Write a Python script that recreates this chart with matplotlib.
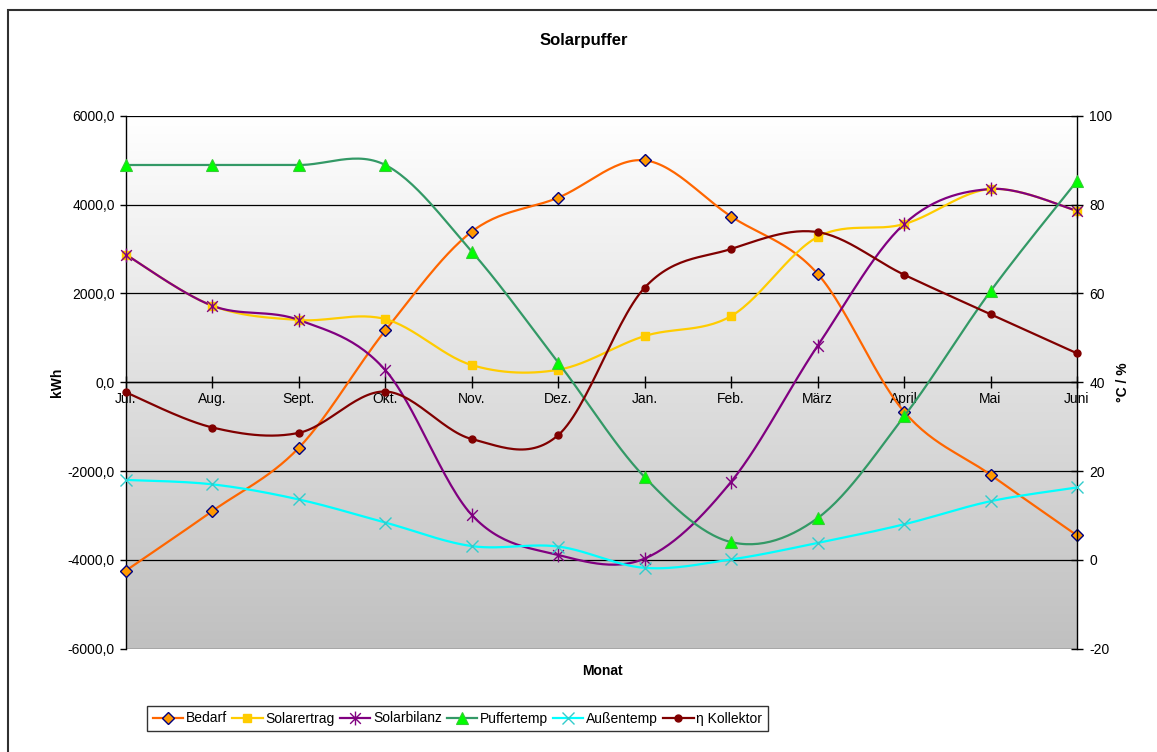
"""Solarpuffer: Excel-style combo chart, kWh on the left, degC / % on the right."""

import matplotlib

matplotlib.use("Agg")
import matplotlib.pyplot as plt  # noqa: E402
import numpy as np  # noqa: E402
from matplotlib.patches import Rectangle  # noqa: E402
from matplotlib.path import Path  # noqa: E402
from matplotlib.ticker import FixedLocator, FuncFormatter  # noqa: E402

plt.rcParams["font.family"] = ["Liberation Sans", "DejaVu Sans"]
plt.rcParams["font.size"] = 10

W, H = 1157, 752

MONTHS = ["Jul.", "Aug.", "Sept.", "Okt.", "Nov.", "Dez.",
          "Jan.", "Feb.", "März", "April", "Mai", "Juni"]

# kWh (left axis)
BEDARF = [-4240, -2900, -1475, 1165, 3390, 4155, 4995, 3730, 2440, -665, -2085, -3450]
SOLARERTRAG = [2870, 1720, 1400, 1420, 385, 280, 1040, 1490, 3270, 3560, 4350, 3860]
SOLARBILANZ = [2870, 1720, 1400, 270, -2990, -3890, -3970, -2240, 820, 3560, 4350, 3860]

# degC / % (right axis)
PUFFERTEMP = [88.9, 88.9, 88.9, 88.9, 69.4, 44.4, 18.6, 4.0, 9.4, 32.3, 60.5, 85.3]
AUSSENTEMP = [18.0, 17.0, 13.6, 8.4, 3.1, 3.0, -1.8, 0.1, 3.8, 8.0, 13.2, 16.3]
KOLLEKTOR = [37.7, 29.8, 28.6, 37.9, 27.2, 28.1, 61.3, 70.0, 73.8, 64.2, 55.3, 46.5]

LEFT_TICKS = [-6000, -4000, -2000, 0, 2000, 4000, 6000]
RIGHT_TICKS = [-20, 0, 20, 40, 60, 80, 100]

# Excel "star" marker: an x with a vertical stroke through it
STAR = Path(
    [(-1, -1), (1, 1), (-1, 1), (1, -1), (0, -1.3), (0, 1.3)],
    [Path.MOVETO, Path.LINETO, Path.MOVETO, Path.LINETO, Path.MOVETO, Path.LINETO],
)

LW = 1.6


def smooth(y, n=30):
    """Excel-like smoothed line: cubic Bezier with Catmull-Rom control points."""
    y = np.asarray(y, dtype=float)
    x = np.arange(len(y), dtype=float)
    pts = np.column_stack([x, y])
    ext = np.vstack([pts[0], pts, pts[-1]])
    t = np.linspace(0, 1, n)[:, None]
    out = []
    for i in range(len(pts) - 1):
        p0, p3 = ext[i + 1], ext[i + 2]
        c1 = p0 + (ext[i + 2] - ext[i]) / 6.0
        c2 = p3 - (ext[i + 3] - ext[i + 1]) / 6.0
        seg = ((1 - t) ** 3) * p0 + 3 * ((1 - t) ** 2) * t * c1 + 3 * (1 - t) * t ** 2 * c2 + t ** 3 * p3
        out.append(seg if i == 0 else seg[1:])
    seg = np.vstack(out)
    return seg[:, 0], seg[:, 1]


def series(ax, values, line_color, label, **mk):
    x = np.arange(len(values))
    sx, sy = smooth(values)
    ax.plot(sx, sy, color=line_color, lw=LW, clip_on=False, zorder=3)
    ax.plot(x, values, ls="none", clip_on=False, zorder=4, **mk)
    # proxy for legend
    return plt.Line2D([], [], color=line_color, lw=LW, label=label, **mk)


fig = plt.figure(figsize=(W / 100, H / 100), dpi=100)
left, right = 126 / W, 1077 / W
top, bottom = 1 - 115.7 / H, 1 - 648.7 / H
ax = fig.add_axes([left, bottom, right - left, top - bottom])
ax2 = ax.twinx()

ax.set_xlim(0, 11)
ax.set_ylim(-6000, 6000)
ax2.set_ylim(-20, 100)

# gradient plot area
grad = np.linspace(1.0, 0.0, 256)[:, None]
ax.imshow(grad, extent=[0, 1, 0, 1], transform=ax.transAxes, aspect="auto",
          cmap=matplotlib.colors.LinearSegmentedColormap.from_list("g", ["#c0c0c0", "#ffffff"]),
          zorder=0)
ax.set_facecolor("none")
ax2.set_facecolor("none")

for v in LEFT_TICKS:
    ax.axhline(v, color="black", lw=0.9, zorder=1)

handles = [
    series(ax, BEDARF, "#ff6600", "Bedarf", marker="D", ms=6, mfc="#ff9900", mec="#000080", mew=1.0),
    series(ax, SOLARERTRAG, "#ffcc00", "Solarertrag", marker="s", ms=6, mfc="#ffcc00", mec="#ffcc00"),
    series(ax, SOLARBILANZ, "#800080", "Solarbilanz", marker=STAR, ms=10, mec="#800080", mew=1.0),
    series(ax2, PUFFERTEMP, "#339966", "Puffertemp", marker="^", ms=8, mfc="#00ff00", mec="#33cc33", mew=0.8),
    series(ax2, AUSSENTEMP, "#00ffff", "Außentemp", marker="x", ms=8, mec="#33cccc", mew=1.0),
    series(ax2, KOLLEKTOR, "#800000", "η Kollektor", marker="o", ms=5, mfc="#800000", mec="#800000"),
]

# x axis crosses at 0 kWh
ax.spines["bottom"].set_position(("data", 0))
for s in ("top", "right"):
    ax.spines[s].set_visible(False)
for s in ("top", "left", "bottom"):
    ax2.spines[s].set_visible(False)
ax.spines["left"].set_linewidth(1.0)
ax2.spines["right"].set_linewidth(1.0)
ax.spines["bottom"].set_linewidth(1.0)

ax.set_xticks(range(len(MONTHS)))
ax.set_xticklabels(MONTHS, fontsize=10)
ax.tick_params(axis="x", direction="inout", length=8, width=1.0, pad=3)

ax.yaxis.set_major_locator(FixedLocator(LEFT_TICKS))
ax.yaxis.set_major_formatter(FuncFormatter(lambda v, _: f"{v:.1f}".replace(".", ",")))
ax.tick_params(axis="y", direction="out", length=4, width=1.0, pad=4, labelsize=10)

ax2.yaxis.set_major_locator(FixedLocator(RIGHT_TICKS))
ax2.yaxis.set_major_formatter(FuncFormatter(lambda v, _: f"{v:.0f}"))
ax2.tick_params(axis="y", direction="inout", length=8, width=1.0, pad=5, labelsize=10)

fig.text(57 / W, 1 - 382 / H, "kWh", rotation=90, ha="center", va="center",
         fontsize=10, fontweight="bold")
fig.text(1123 / W, 1 - 382 / H, "°C / %", rotation=90, ha="center", va="center",
         fontsize=10, fontweight="bold")
fig.text(602 / W, 1 - 671 / H, "Monat", ha="center", va="center",
         fontsize=10, fontweight="bold")
fig.text(584 / W, 1 - 41 / H, "Solarpuffer", ha="center", va="center",
         fontsize=12, fontweight="bold")

leg = fig.legend(handles=handles, loc="center", ncol=6,
                 bbox_to_anchor=((147 + 768) / 2 / W, 1 - 718.5 / H),
                 frameon=True, fancybox=False, fontsize=10, handlelength=2.2,
                 handletextpad=0.2, columnspacing=0.35, borderpad=0.4)
leg.get_frame().set_edgecolor("black")
leg.get_frame().set_linewidth(1.0)

# chart-area border (cropped on the right and at the bottom)
fig.patches.append(Rectangle((8 / W, -0.1), 1.2, 1 - 10 / H + 0.1, transform=fig.transFigure,
                             fill=False, edgecolor="#303030", lw=1.5))

fig.savefig("out.png", dpi=100)
